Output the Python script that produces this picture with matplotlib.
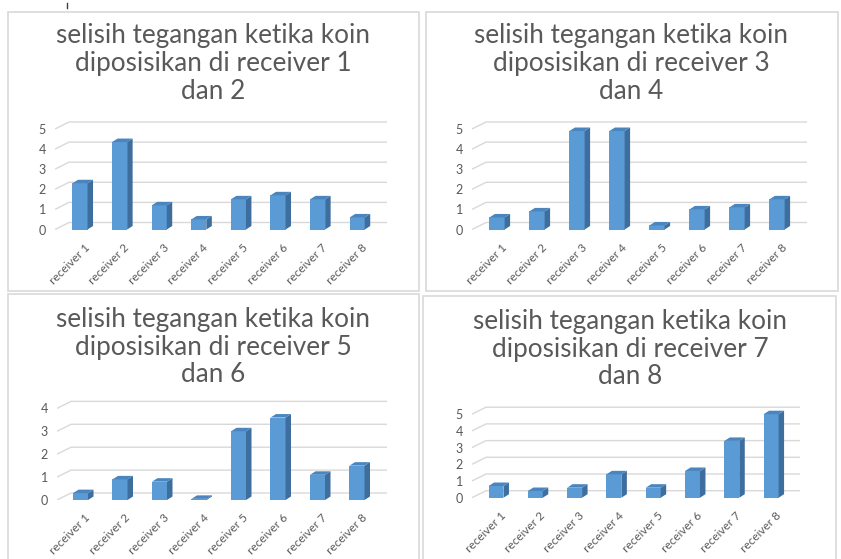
import matplotlib
matplotlib.use("Agg")
import matplotlib.pyplot as plt
from matplotlib.patches import Rectangle, Polygon
from matplotlib.lines import Line2D
from matplotlib.transforms import ScaledTranslation
import numpy as np

W, H = 841, 559
DPI = 100

categories = ["receiver 1", "receiver 2", "receiver 3", "receiver 4",
              "receiver 5", "receiver 6", "receiver 7", "receiver 8"]

title_line1 = "selisih tegangan ketika koin"
titles = [
    [title_line1, "diposisikan di receiver 1", "dan 2"],
    [title_line1, "diposisikan di receiver 3", "dan 4"],
    [title_line1, "diposisikan di receiver 5", "dan 6"],
    [title_line1, "diposisikan di receiver 7", "dan 8"],
]

values_r12 = [2.3, 4.35, 1.2, 0.5, 1.5, 1.7, 1.5, 0.6]
values_r34 = [0.6, 0.9, 4.9, 4.9, 0.2, 1.0, 1.1, 1.5]
values_r56 = [0.3, 0.9, 0.8, 0.05, 3.0, 3.6, 1.1, 1.5]
values_r78 = [0.7, 0.4, 0.6, 1.4, 0.6, 1.6, 3.4, 5.0]
series = [values_r12, values_r34, values_r56, values_r78]
yticks_list = [[0, 1, 2, 3, 4, 5], [0, 1, 2, 3, 4, 5], [0, 1, 2, 3, 4], [0, 1, 2, 3, 4, 5]]

# layout (pixels)
panels = [
    dict(frame=(8, 12, 419, 291), tcx=213, ty=(36, 64, 91), cat0=80, sp=39.6, base=229.5, unit=20.1, gl=55, gr=387),
    dict(frame=(426, 12, 838, 291), tcx=631, ty=(36, 64, 91), cat0=497, sp=40.0, base=229.5, unit=20.1, gl=472, gr=807),
    dict(frame=(8, 294, 419, 562), tcx=213, ty=(319, 347, 374), cat0=80.5, sp=39.5, base=500, unit=22.9, gl=57, gr=387),
    dict(frame=(423, 296, 836, 562), tcx=630, ty=(321, 349, 376), cat0=496, sp=39.3, base=497.7, unit=16.7, gl=472, gr=800),
]

FRONT = "#5B9BD5"
SIDE = "#3E6E9E"
TOP = "#4A85BE"
GRID = "#D9D9D9"
TXT = "#595959"
FONT = "Lato"

fig = plt.figure(figsize=(W / DPI, H / DPI), dpi=DPI)
fig.patch.set_facecolor("white")


def fx(px):
    return px / W


def fy(py):
    return 1 - py / H


# small mark at top
fig.add_artist(Line2D([fx(67), fx(67)], [fy(3), fy(8)], color="#404040", lw=1))

for p, vals, title, yt in zip(panels, series, titles, yticks_list):
    x0, y0, x1, y1 = p["frame"]
    fig.add_artist(Rectangle((fx(x0), fy(y1)), fx(x1 - x0), (y1 - y0) / H,
                             fill=False, edgecolor=GRID, lw=1.2))
    for line, ty in zip(title, p["ty"]):
        fig.text(fx(p["tcx"]), fy(ty), line, ha="center", va="center",
                 fontsize=18.8, color=TXT, family=FONT)

    ymax = max(yt)
    top_px = p["base"] - ymax * p["unit"] - 12
    ax = fig.add_axes([fx(p["gl"]), fy(p["base"]), fx(p["gr"] - p["gl"]),
                       (p["base"] - top_px) / H])
    ax.set_xlim((p["gl"] - p["cat0"]) / p["sp"], (p["gr"] - p["cat0"]) / p["sp"])
    ax.set_ylim(0, (p["base"] - top_px) / p["unit"])
    ax.axis("off")

    x = np.arange(len(categories))
    w = 0.38
    ax.bar(x, vals, width=w, color=FRONT, edgecolor="none", zorder=3)

    fig.canvas.draw()
    tD = ax.transData
    inv = tD.inverted()

    def off(pts, dx, dy):
        d = tD.transform(pts)
        d[:, 0] += dx
        d[:, 1] += dy
        return inv.transform(d)

    # gridlines with slanted left segment
    xl, xr = ax.get_xlim()
    for v in yt:
        front = np.array([[xl, v]])
        back = off(front, 14, 7)[0]
        ax.plot([xl, back[0], xr], [v, back[1], back[1]], color=GRID, lw=1.0,
                zorder=1, solid_capstyle="butt")
        ax.text(xl, v, str(v), transform=tD + ScaledTranslation(-9 / DPI, -1 / DPI, fig.dpi_scale_trans),
                ha="right", va="center", fontsize=9, color=TXT, family=FONT)

    # 3D side and top faces
    dx, dy = 5.5, 3.5
    for xi, v in zip(x, vals):
        r, l = xi + w / 2, xi - w / 2
        side = np.array([[r, 0], [r, v]])
        sb = off(side, dx, dy)
        ax.add_patch(Polygon([side[0], side[1], sb[1], sb[0]], closed=True,
                             facecolor=SIDE, edgecolor="none", zorder=3, clip_on=False))
        topf = np.array([[l, v], [r, v]])
        tb = off(topf, dx, dy)
        ax.add_patch(Polygon([topf[0], topf[1], tb[1], tb[0]], closed=True,
                             facecolor=TOP, edgecolor="none", zorder=3, clip_on=False))

    # category labels
    for xi, c in zip(x, categories):
        ax.text(xi + 0.1, 0, c,
                transform=tD + ScaledTranslation(0, -12 / DPI, fig.dpi_scale_trans),
                rotation=45, rotation_mode="anchor", ha="right", va="top",
                fontsize=8.5, color=TXT, family=FONT)

fig.savefig("out.png", dpi=DPI, facecolor="white")
